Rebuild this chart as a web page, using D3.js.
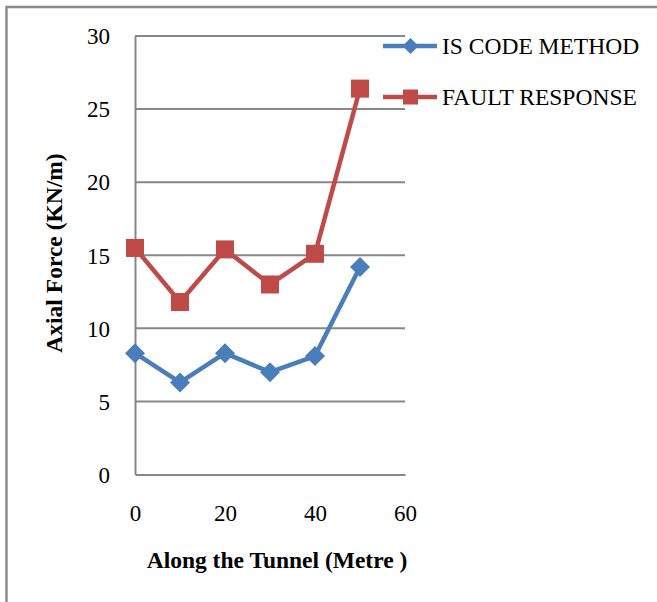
<!DOCTYPE html>
<html>
<head>
<meta charset="utf-8">
<script src="https://cdn.jsdelivr.net/npm/d3@7"></script>
<style>
  html, body { margin: 0; padding: 0; background: #ffffff; }
  svg { display: block; }
  text { font-family: "Liberation Serif", "Times New Roman", serif; fill: #000; }
</style>
</head>
<body>
<svg id="chart" width="657" height="602"></svg>
<script>
// Distance along the tunnel (m)
const distances = [0, 10, 20, 30, 40, 50];
// Axial force (KN/m) for each method
const isCodeMethod = [8.3, 6.3, 8.3, 7.0, 8.1, 14.2];
const faultResponse = [15.5, 11.8, 15.4, 13.0, 15.1, 26.4];
const seriesNames = ["IS CODE METHOD", "FAULT RESPONSE"];
const xTicks = [0, 20, 40, 60];
const yTicks = [0, 5, 10, 15, 20, 25, 30];
const xTitle = "Along the Tunnel (Metre )";
const yTitle = "Axial Force (KN/m)";

const svg = d3.select("#chart");
const W = 657, H = 602;

// outer frame (right and bottom edges fall outside the view)
svg.append("rect")
  .attr("x", 6.5).attr("y", 7)
  .attr("width", W + 20).attr("height", H + 20)
  .attr("fill", "none").attr("stroke", "#8c8c8c").attr("stroke-width", 2.5);

const plot = { left: 135, right: 405, top: 36, bottom: 474.5 };
const x = d3.scaleLinear().domain([0, 60]).range([plot.left, plot.right]);
const y = d3.scaleLinear().domain([0, 30]).range([plot.bottom, plot.top]);

const gridColor = "#878787";

// horizontal gridlines
svg.append("g").selectAll("line")
  .data(yTicks.filter(d => d > 0))
  .join("line")
  .attr("x1", x(0)).attr("x2", x(60))
  .attr("y1", d => y(d)).attr("y2", d => y(d))
  .attr("stroke", gridColor).attr("stroke-width", 2);

// y axis
const yAxis = svg.append("g")
  .attr("transform", `translate(${plot.left},0)`)
  .call(d3.axisLeft(y).tickValues(yTicks).tickSize(0).tickPadding(25).tickFormat(d3.format("d")));
yAxis.select(".domain").attr("stroke", gridColor).attr("stroke-width", 2);
yAxis.selectAll("text")
  .style("font-family", '"Liberation Serif", serif')
  .style("font-size", "23px")
  .attr("dy", "0.34em");

// x axis
const xAxis = svg.append("g")
  .attr("transform", `translate(0,${plot.bottom})`)
  .call(d3.axisBottom(x).tickValues(xTicks).tickSize(0).tickPadding(30).tickFormat(d3.format("d")));
xAxis.select(".domain").attr("stroke", gridColor).attr("stroke-width", 2);
xAxis.selectAll("text")
  .style("font-family", '"Liberation Serif", serif')
  .style("font-size", "23px")
  .attr("dy", "0.71em");

// axis titles
svg.append("text")
  .attr("x", 277).attr("y", 568)
  .attr("text-anchor", "middle")
  .style("font-size", "23.5px").style("font-weight", "bold")
  .text(xTitle);

svg.append("text")
  .attr("transform", "translate(62,253) rotate(-90)")
  .attr("text-anchor", "middle")
  .style("font-size", "23.5px").style("font-weight", "bold")
  .text(yTitle);

const series = [
  { name: seriesNames[0], values: isCodeMethod, color: "#4a7ebb", marker: "diamond" },
  { name: seriesNames[1], values: faultResponse, color: "#be4b48", marker: "square" }
];

const line = d3.line().x(d => x(d[0])).y(d => y(d[1]));

function drawMarker(g, type, color, cx, cy, s) {
  if (type === "diamond") {
    g.append("path")
      .attr("d", `M${cx},${cy - s}L${cx + s},${cy}L${cx},${cy + s}L${cx - s},${cy}Z`)
      .attr("fill", color);
  } else {
    g.append("rect")
      .attr("x", cx - s).attr("y", cy - s)
      .attr("width", 2 * s).attr("height", 2 * s)
      .attr("fill", color);
  }
}

series.forEach(s => {
  const pts = distances.map((d, i) => [d, s.values[i]]);
  const g = svg.append("g");
  g.append("path")
    .attr("d", line(pts))
    .attr("fill", "none")
    .attr("stroke", s.color)
    .attr("stroke-width", 4.5)
    .attr("stroke-linejoin", "round");
  pts.forEach(p => drawMarker(g, s.marker, s.color, x(p[0]), y(p[1]), s.marker === "diamond" ? 10 : 9));
});

// legend
const legendY = [46, 97];
series.forEach((s, i) => {
  const g = svg.append("g");
  g.append("line")
    .attr("x1", 383).attr("x2", 437)
    .attr("y1", legendY[i]).attr("y2", legendY[i])
    .attr("stroke", s.color).attr("stroke-width", 4.5);
  drawMarker(g, s.marker, s.color, 410.5, legendY[i], s.marker === "diamond" ? 8 : 7.5);
  g.append("text")
    .attr("x", 442).attr("y", legendY[i])
    .attr("dy", "0.35em")
    .style("font-size", "23.5px")
    .text(s.name);
});
</script>
</body>
</html>
